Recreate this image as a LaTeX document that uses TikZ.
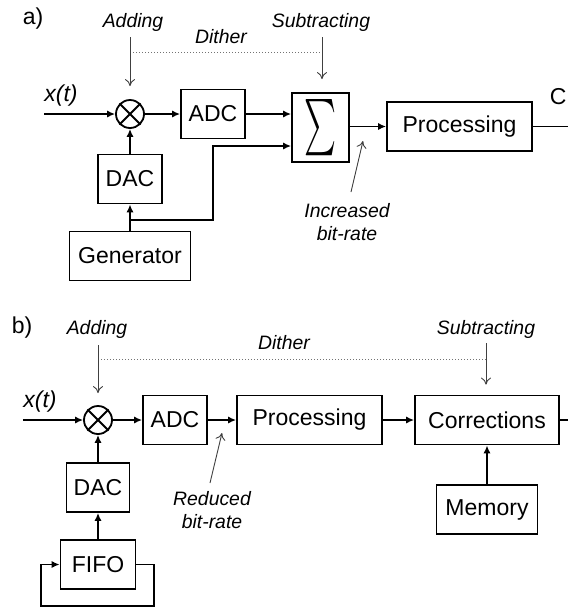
\documentclass[tikz,border=0pt]{standalone}
\usepackage{fontspec}
\setmainfont{Liberation Sans}
\usetikzlibrary{arrows.meta,calc,positioning}

\begin{document}
\begin{tikzpicture}
    [x=0.5pt,y=-0.5pt,font=\fontsize{11.5}{13}\selectfont,
     blk/.style={draw,line width=0.9pt,minimum height=24.5pt,inner sep=0pt},
     lab/.style={font=\fontsize{9.7}{11.5}\selectfont\itshape,align=center,inner sep=0pt},
     mixer/.style={draw,circle,line width=0.9pt,minimum size=14pt,inner sep=0pt},
     sig/.style={-{Latex[length=4pt,width=3.6pt]},line width=0.9pt},
     hint/.style={-{To[length=3.5pt,width=5pt]},line width=0.45pt,black!75},
     dith/.style={densely dotted,line width=0.5pt,black!55}]
    \useasboundingbox (0,0) rectangle (568,607);

    % a) dither added and subtracted
    \node (tagA) at (33,19) {a)};
    \node[mixer] (mixA) at (130,114) {};
    \node[blk,minimum width=32pt] (adcA) at (213,114) {ADC};
    \node[blk,minimum width=28.5pt,minimum height=34.5pt] (sumA) at (320.5,127.5)
      {\resizebox{16pt}{22.5pt}{$\sum$}};
    \node[blk,minimum width=72.5pt] (procA) at (459.5,126.5) {Processing};
    \node[blk,minimum width=32pt] (dacA) at (130,179) {DAC};
    \node[blk,minimum width=60.5pt] (genA) at (130,256) {Generator};
    \node[anchor=east,inner sep=0.5pt] (outA) at (568,97) {C};
    \node (xA) at (61,96) {\itshape x(t)};
    \node[lab] (addA) at (133,22) {Adding};
    \node[lab] (subA) at (321,22) {Subtracting};
    \node[lab] (ditA) at (221,37) {Dither};
    \node[lab] (incA) at (347,222) {Increased\\bit-rate};

    \coordinate (inA) at (44,114);
    \coordinate (brA) at (130,220);
    \coordinate (knA) at (213,146);
    \coordinate (endA) at (570,126.5);
    \coordinate (d1A) at (130,37);
    \coordinate (d2A) at (322,37);
    \coordinate (i1A) at (351,192);
    \coordinate (i2A) at (363,141);

    \foreach \s / \t in {inA/mixA,mixA/adcA,genA/dacA,dacA/mixA} {
      \draw[sig] (\s) -- (\t);
    }
    \draw[sig] (adcA.east) -- (adcA.east -| sumA.west);
    \draw[sig] (brA) -| (knA) -- (knA -| sumA.west);
    \draw[sig] (sumA.east |- procA.west) -- (procA.west);
    \draw[line width=0.9pt] (procA.east) -- (endA);
    \draw[dith] ($(d1A)+(0,15)$) -- ($(d2A)+(0,15)$);
    \draw[hint,shorten >=6.5pt] (d1A) -- (mixA.north);
    \draw[hint,shorten >=6.5pt] (d2A) -- (d2A |- sumA.north);
    \draw[hint] (i1A) -- (i2A);

    % b) dither subtracted after processing
    \node (tagB) at (22,328) {b)};
    \node[mixer] (mixB) at (98,420) {};
    \node[blk,minimum width=32pt] (adcB) at (175,420) {ADC};
    \node[blk,minimum width=72.5pt] (procB) at (309.5,420) {Processing};
    \node[blk,minimum width=72pt] (corB) at (487,420) {Corrections};
    \node[blk,minimum width=50.5pt] (memB) at (487,509.5) {Memory};
    \node[blk,minimum width=31.5pt] (dacB) at (98,487.5) {DAC};
    \node[blk,minimum width=37.5pt] (fifoB) at (98,564.5) {FIFO};
    \node (xB) at (40,402) {\itshape x(t)};
    \node[lab] (addB) at (97,329) {Adding};
    \node[lab] (subB) at (486,329) {Subtracting};
    \node[lab] (ditB) at (284,343) {Dither};
    \node[lab] (redB) at (212,510) {Reduced\\bit-rate};

    \coordinate (inB) at (23,420);
    \coordinate (endB) at (570,420);
    \coordinate (lp1B) at (154,606);
    \coordinate (lp2B) at (41,564.5);
    \coordinate (d1B) at (98,345);
    \coordinate (d2B) at (486,343);
    \coordinate (r1B) at (210,483);
    \coordinate (r2B) at (222,433);

    \foreach \s / \t in {inB/mixB,mixB/adcB,adcB/procB,procB/corB,memB/corB,fifoB/dacB,dacB/mixB} {
      \draw[sig] (\s) -- (\t);
    }
    \draw[line width=0.9pt] (corB.east) -- (endB);
    \draw[sig] (fifoB.east) -| (lp1B) -| (lp2B) -- (fifoB.west);
    \draw[dith] ($(d1B)+(0,14)$) -- ($(d2B)+(0,16)$);
    \draw[hint,shorten >=6pt] (d1B) -- (mixB.north);
    \draw[hint,shorten >=5pt] (d2B) -- (d2B |- corB.north);
    \draw[hint] (r1B) -- (r2B);

    \foreach \n in {mixA,mixB} {
      \draw[line width=0.9pt] (\n.north west) -- (\n.south east)
        (\n.north east) -- (\n.south west);
    }
\end{tikzpicture}
\end{document}
